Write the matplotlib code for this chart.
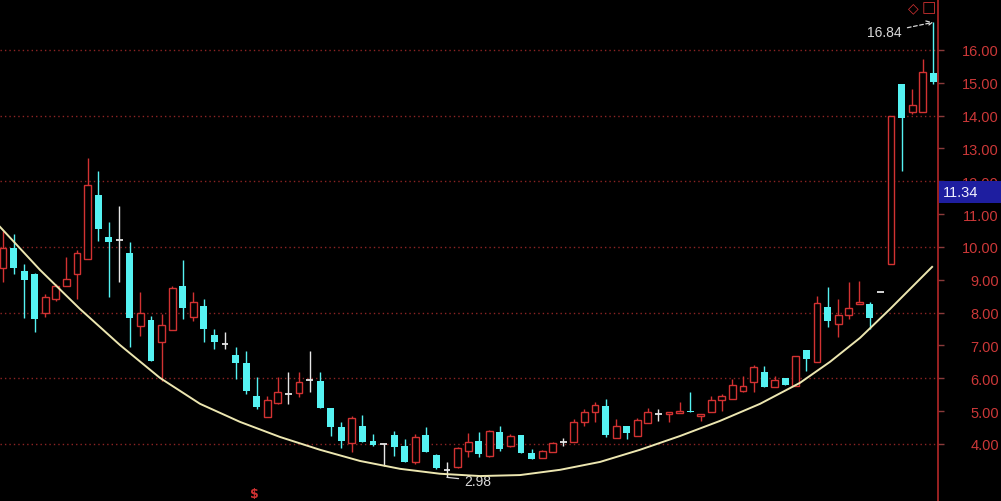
import numpy as np
import matplotlib
matplotlib.use("Agg")
import matplotlib.pyplot as plt
import matplotlib.transforms as mtransforms
from matplotlib.patches import Rectangle

# K线数据 (开, 高, 低, 收)
opens = [9.36, 9.97, 9.27, 9.18, 8.00, 8.42, 8.81, 9.18, 9.63, 11.58,
         10.30, 10.21, 9.82, 7.59, 7.78, 7.10, 7.47, 8.81, 7.87, 8.20,
         7.32, 7.05, 6.71, 6.47, 5.46, 4.82, 5.25, 5.52, 5.55, 5.95,
         5.92, 5.10, 4.52, 4.03, 4.55, 4.09, 4.00, 4.27, 3.94, 3.45,
         4.27, 3.66, 3.20, 3.30, 3.79, 4.09, 3.63, 4.36, 3.94, 4.27,
         3.73, 3.57, 3.76, 4.06, 4.06, 4.67, 4.97, 5.16, 4.18, 4.55,
         4.24, 4.64, 4.91, 4.91, 4.94, 5.00, 4.85, 4.97, 5.34, 5.37,
         5.61, 5.89, 6.19, 5.73, 6.00, 5.76, 6.86, 6.50, 8.17, 7.65,
         7.93, 8.26, 8.26, 8.63, 9.48, 14.96, 14.11, 14.11, 15.30]
highs = [10.49, 10.40, 9.48, 9.20, 8.57, 8.87, 9.70, 9.90, 12.71, 12.31,
         10.76, 11.25, 10.15, 8.63, 7.90, 7.96, 8.81, 9.60, 8.63, 8.42,
         7.50, 7.41, 6.95, 6.83, 6.04, 5.46, 6.04, 6.19, 6.19, 6.83,
         6.19, 5.10, 4.67, 4.85, 4.88, 4.30, 4.00, 4.40, 4.15, 4.30,
         4.52, 3.70, 3.45, 3.90, 4.33, 4.36, 4.42, 4.55, 4.30, 4.27,
         3.85, 3.82, 4.06, 4.18, 4.76, 5.06, 5.28, 5.37, 4.76, 4.55,
         4.79, 5.09, 5.06, 4.97, 5.28, 5.58, 4.91, 5.46, 5.52, 5.98,
         6.07, 6.40, 6.37, 6.07, 6.00, 6.68, 6.86, 8.50, 8.78, 8.42,
         8.93, 8.96, 8.32, 8.63, 14.00, 14.96, 14.81, 15.73, 16.84]
lows = [8.93, 9.18, 7.84, 7.40, 7.87, 8.36, 8.81, 8.42, 9.63, 10.18,
        8.48, 8.93, 6.95, 7.29, 6.53, 5.92, 7.47, 7.81, 7.75, 7.10,
        6.89, 6.89, 5.98, 5.52, 5.07, 4.82, 5.22, 5.22, 5.43, 5.58,
        5.10, 4.25, 3.88, 3.76, 4.06, 3.95, 3.33, 3.63, 3.45, 3.39,
        3.76, 3.24, 2.98, 3.28, 3.60, 3.60, 3.60, 3.79, 3.91, 3.73,
        3.54, 3.57, 3.76, 3.94, 4.06, 4.55, 4.67, 4.21, 4.18, 4.15,
        4.24, 4.64, 4.70, 4.67, 4.94, 4.97, 4.70, 4.97, 5.00, 5.37,
        5.58, 5.58, 5.73, 5.73, 5.80, 5.76, 6.22, 6.50, 7.56, 7.26,
        7.81, 8.26, 7.50, 8.63, 9.48, 12.31, 14.05, 14.11, 14.96]
closes = [9.97, 9.37, 9.00, 7.80, 8.48, 8.81, 9.03, 9.82, 11.89, 10.55,
          10.15, 10.21, 7.84, 7.99, 6.53, 7.62, 8.75, 8.14, 8.32, 7.50,
          7.11, 7.05, 6.47, 5.62, 5.13, 5.34, 5.58, 5.52, 5.89, 5.95,
          5.10, 4.52, 4.09, 4.79, 4.06, 3.97, 4.00, 3.91, 3.45, 4.21,
          3.76, 3.27, 3.20, 3.88, 4.06, 3.70, 4.39, 3.85, 4.24, 3.73,
          3.54, 3.79, 4.03, 4.06, 4.67, 4.97, 5.19, 4.27, 4.55, 4.33,
          4.73, 4.97, 4.91, 4.97, 5.00, 4.97, 4.91, 5.34, 5.46, 5.80,
          5.77, 6.34, 5.73, 5.95, 5.80, 6.68, 6.59, 8.29, 7.75, 7.93,
          8.14, 8.32, 7.84, 8.63, 13.99, 13.93, 14.32, 15.33, 15.03]

# 弧形底曲线 (K线序号, 价格)
curve_idx = [-0.28, 3.50, 7.28, 11.07, 14.85, 18.64, 22.42, 26.21, 29.99, 33.77,
             37.56, 41.34, 45.13, 48.91, 52.70, 56.48, 60.26, 64.05, 67.83, 71.62,
             75.40, 78.24, 81.08, 83.92, 87.89]
curve_val = [10.61, 9.30, 8.11, 7.01, 6.01, 5.22, 4.67, 4.21, 3.82, 3.48,
             3.24, 3.09, 3.02, 3.05, 3.21, 3.45, 3.82, 4.24, 4.70, 5.22,
             5.86, 6.50, 7.23, 8.11, 9.39]

price_ticks = list(range(4, 17))
last_price = 11.34
max_price = 16.84
min_price = 2.98

RED = "#d23232"
CYAN = "#55f2f2"
DOJI = "#e6e6e6"

fig = plt.figure(figsize=(10.01, 5.02), dpi=100, facecolor="black")
ax = fig.add_axes([0, 0, 938 / 1001, 1])
ax.set_facecolor("black")

x = np.arange(len(opens))
o = np.array(opens)
h = np.array(highs)
l = np.array(lows)
c = np.array(closes)
w = 0.65

# 网格虚线
for lv in price_ticks[::2]:
    ax.axhline(lv, color="#8e2424", lw=1, linestyle=(0, (1, 2.2)), zorder=0)

up = c > o
dn = c < o
dj = c == o

# 阳线: 空心红
top = np.maximum(o, c)
bot = np.minimum(o, c)
ax.vlines(x[up], top[up], h[up], color=RED, lw=1, zorder=2)
ax.vlines(x[up], l[up], bot[up], color=RED, lw=1, zorder=2)
ax.bar(x[up], (c - o)[up], bottom=o[up], width=w, facecolor="black",
       edgecolor=RED, linewidth=1, zorder=3)

# 阴线: 实心青
ax.vlines(x[dn], l[dn], h[dn], color=CYAN, lw=1, zorder=2)
ax.bar(x[dn], (o - c)[dn], bottom=c[dn], width=w, color=CYAN,
       linewidth=0, zorder=3)

# 十字星
ax.vlines(x[dj], l[dj], h[dj], color=DOJI, lw=1, zorder=2)
ax.hlines(o[dj], x[dj] - w / 2, x[dj] + w / 2, color=DOJI, lw=1.3, zorder=3)

# 圆弧底
ax.plot(curve_idx, curve_val, color="#ece6b0", lw=1.4, zorder=4)

# 最高 / 最低标注
i_max = int(np.argmax(h))
i_min = int(np.argmin(l))
ax.annotate(f"{max_price:.2f}", xy=(i_max, max_price), xytext=(i_max - 4.6, 16.53),
            color="#d8d8d8", fontsize=10, family="Liberation Sans", ha="center", va="center",
            arrowprops=dict(arrowstyle="->", color="#d8d8d8", lw=0.9, linestyle=(0, (3, 2)),
                            shrinkA=2, shrinkB=0))
ax.annotate(f"{min_price:.2f}", xy=(i_min, min_price), xytext=(i_min + 2.9, 2.88),
            color="#d8d8d8", fontsize=10, family="Liberation Sans", ha="center", va="center",
            arrowprops=dict(arrowstyle="-", color="#d8d8d8", lw=0.9, shrinkA=2, shrinkB=0))

ax.text(23.8, 2.48, "$", color=RED, fontsize=9, fontweight="bold", ha="center", va="center")

ax.set_xlim(-0.28, 88.45)
ax.set_ylim(2.26, 17.55)

# 右侧价格轴
for s in ["top", "left", "bottom"]:
    ax.spines[s].set_visible(False)
ax.spines["right"].set_color("#b42828")
ax.spines["right"].set_linewidth(1.2)
ax.set_xticks([])
ax.yaxis.tick_right()
ax.set_yticks(price_ticks)
ax.set_yticklabels([f"{v:.2f}" for v in price_ticks])
ax.tick_params(axis="y", colors="#8a3a3a", length=4, width=1, pad=39.9,
               labelsize=10.5, labelcolor="#cc3838")
for lab in ax.yaxis.get_majorticklabels():
    lab.set_horizontalalignment("right")
    lab.set_family("Liberation Sans")

# 当前价格框
blend = mtransforms.blended_transform_factory(fig.transFigure, ax.transData)
box = Rectangle((939 / 1001, last_price), 62 / 1001, 0.66, transform=blend,
                facecolor="#1e1ea0", edgecolor="none", zorder=5)
fig.add_artist(box)
fig.text(943 / 1001, last_price + 0.33, f"{last_price:.2f}", transform=blend,
         color="#f0f0ff", fontsize=10.5, family="Liberation Sans", va="center", zorder=6)

# 右上角标记
fig.text(913 / 1001, 1 - 8 / 502, "\u25c7", color=RED, fontsize=10, ha="center", va="center")
fig.text(929 / 1001, 1 - 8 / 502, "\u25a1", color=RED, fontsize=11, ha="center", va="center")

fig.savefig("out.png", dpi=100, facecolor="black")
